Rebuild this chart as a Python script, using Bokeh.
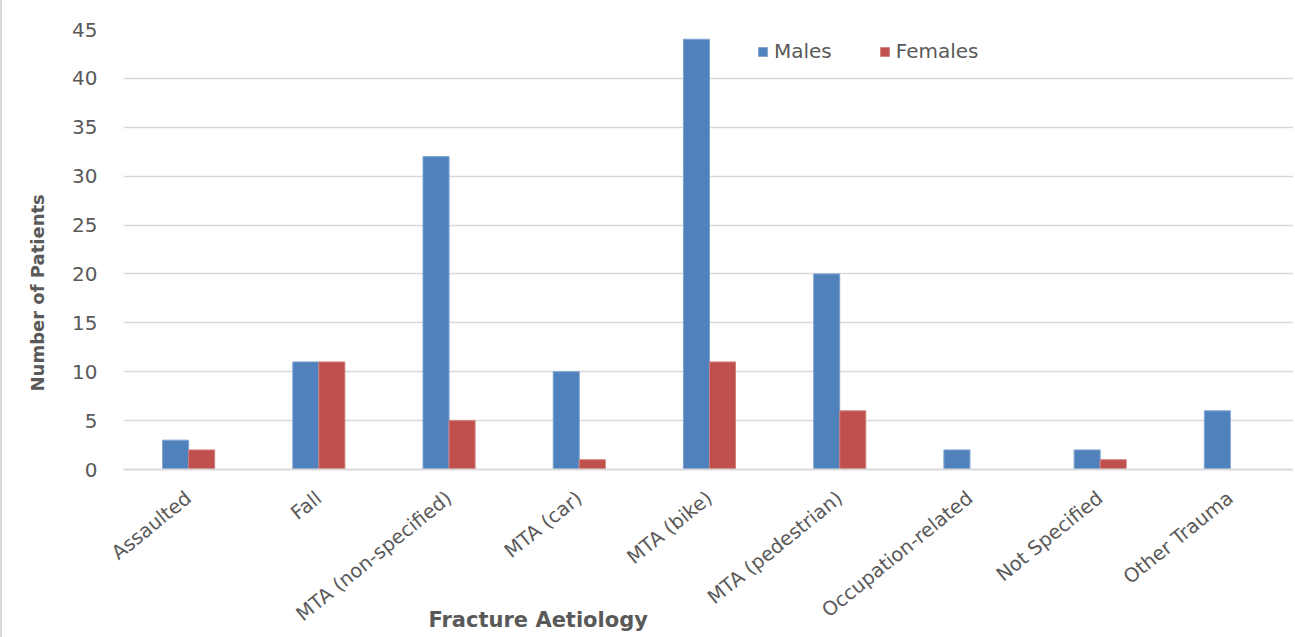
import math
from bokeh.plotting import figure
from bokeh.models import (ColumnDataSource, FactorRange, Range1d, SingleIntervalTicker,
                          Legend, Title)
from bokeh.transform import dodge
from bokeh.embed import file_html
from bokeh.resources import INLINE

categories = ["Assaulted", "Fall", "MTA (non-specified)", "MTA (car)", "MTA (bike)",
              "MTA (pedestrian)", "Occupation-related", "Not Specified", "Other Trauma"]
males = [3, 11, 32, 10, 44, 20, 2, 2, 6]
females = [2, 11, 5, 1, 11, 6, 0, 1, 0]

FONT = "DejaVu Sans"
GREY = "#595959"

source = ColumnDataSource(data=dict(cat=categories, males=males, females=females))

p = figure(x_range=FactorRange(*categories, range_padding=0), y_range=Range1d(0, 45),
           width=1293, height=637, output_backend="svg", toolbar_location=None,
           min_border_left=121, min_border_right=0, min_border_top=29, min_border_bottom=167)
p.styles = {"border-left": "2px solid #d9d9d9"}
p.outline_line_color = None

r1 = p.vbar(x=dodge("cat", -0.1, range=p.x_range), top="males", width=0.2, source=source,
            fill_color="#4F81BD", line_color="#7FA3D1", line_width=1)
r2 = p.vbar(x=dodge("cat", 0.1, range=p.x_range), top="females", width=0.2, source=source,
            fill_color="#C0504D", line_color="#D07E7C", line_width=1)

legend = Legend(items=[("Males", [r1]), ("Females", [r2])], location=(634, 406),
                orientation="horizontal", padding=0, margin=0, spacing=47,
                border_line_color=None, background_fill_alpha=0,
                label_text_font=FONT, label_text_font_size="20px", label_text_color=GREY,
                glyph_width=11, glyph_height=11, label_standoff=6)
p.add_layout(legend)

p.yaxis.ticker = SingleIntervalTicker(interval=5)
p.yaxis.axis_line_color = None
p.yaxis.major_tick_line_color = None
p.yaxis.minor_tick_line_color = None
p.yaxis.major_label_standoff = 20
p.yaxis.major_label_text_font = FONT
p.yaxis.major_label_text_font_size = "20px"
p.yaxis.major_label_text_color = GREY

p.xaxis.axis_line_color = "#d9d9d9"
p.xaxis.axis_line_width = 2
p.xaxis.major_tick_line_color = None
p.xaxis.minor_tick_line_color = None
p.xaxis.major_label_orientation = 0.68
p.xaxis.major_label_standoff = 20
p.xaxis.major_label_text_font = FONT
p.xaxis.major_label_text_font_size = "19.5px"
p.xaxis.major_label_text_color = GREY

p.xgrid.grid_line_color = None
p.ygrid.grid_line_color = "#d9d9d9"
p.ygrid.grid_line_width = 1.5

ytitle = Title(text="Number of Patients", align="left", offset=78, vertical_align="bottom",
               standoff=44, text_font=FONT, text_font_size="18px", text_font_style="bold",
               text_color=GREY)
xtitle = Title(text="Fracture Aetiology", align="left", offset=305, vertical_align="top",
               standoff=-60, text_font=FONT, text_font_size="21px", text_font_style="bold",
               text_color=GREY)
p.add_layout(ytitle, "left")
p.add_layout(xtitle, "below")

open("out.html", "w").write(file_html(p, INLINE))
